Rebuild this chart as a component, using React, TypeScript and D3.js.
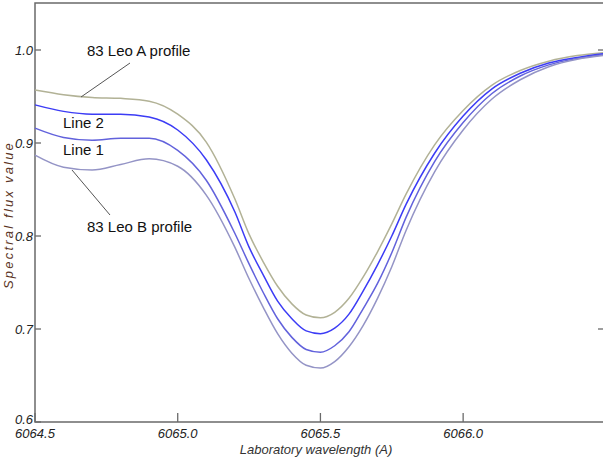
import React, { useRef, useEffect } from "react";
import * as d3 from "d3";

// wavelength samples (A); denser through the line core
const wavelengths = [
  6064.5, 6064.6, 6064.7, 6064.8, 6064.9, 6065.0, 6065.1, 6065.2, 6065.25,
  6065.3, 6065.35, 6065.4, 6065.45, 6065.5, 6065.55, 6065.6, 6065.65, 6065.7,
  6065.75, 6065.8, 6065.9, 6066.0, 6066.1, 6066.2, 6066.3, 6066.4, 6066.49,
];
const leoA = [
  0.957, 0.952, 0.949, 0.948, 0.945, 0.931, 0.901, 0.84, 0.802, 0.772, 0.746,
  0.727, 0.715, 0.712, 0.718, 0.733, 0.756, 0.783, 0.813, 0.845, 0.898, 0.935,
  0.962, 0.978, 0.988, 0.994, 0.997,
];
const line2 = [
  0.941, 0.934, 0.931, 0.931, 0.928, 0.914, 0.882, 0.826, 0.788, 0.758, 0.73,
  0.711, 0.698, 0.695, 0.701, 0.716, 0.741, 0.769, 0.8, 0.834, 0.889, 0.929,
  0.958, 0.975, 0.986, 0.992, 0.996,
];
const line1 = [
  0.916, 0.906, 0.903, 0.905, 0.905, 0.892, 0.86, 0.803, 0.77, 0.739, 0.711,
  0.691, 0.678, 0.675, 0.682, 0.697, 0.722, 0.749, 0.782, 0.82, 0.88, 0.922,
  0.953, 0.972, 0.984, 0.991, 0.995,
];
const leoB = [
  0.887, 0.874, 0.871, 0.877, 0.883, 0.875, 0.844, 0.788, 0.754, 0.723, 0.695,
  0.674, 0.661, 0.658, 0.665, 0.681, 0.704, 0.733, 0.767, 0.806, 0.869, 0.914,
  0.947, 0.968, 0.982, 0.99, 0.994,
];
const xTicks = [6064.5, 6065.0, 6065.5, 6066.0];
const yTicks = [0.6, 0.7, 0.8, 0.9, 1.0];

const series = [
  { name: "A", values: leoA, color: "#b2b296" },
  { name: "Line 2", values: line2, color: "#3c3cf5" },
  { name: "Line 1", values: line1, color: "#6262dc" },
  { name: "B", values: leoB, color: "#9494c6" },
];

const W = 603,
  H = 462;

const App = () => {
  const ref = useRef<SVGSVGElement>(null);

  useEffect(() => {
    const svg = d3.select(ref.current);
    svg.selectChildren().remove();

    const x = d3.scaleLinear().domain([6064.5, 6066.49]).range([35, 603]);
    const y = d3.scaleLinear().domain([0.6, 1.0]).range([422, 50]);
    const axisColor = "#6a6a6a";
    const tickFont = "'Liberation Sans Narrow', 'Arial Narrow', 'Liberation Sans', sans-serif";

    // frame
    svg
      .append("path")
      .attr("d", `M${W},3 H35 V422 H${W}`)
      .attr("fill", "none")
      .attr("stroke", axisColor)
      .attr("stroke-width", 1.5);

    // y ticks (inward), plus right-edge ticks
    const yt = svg.append("g");
    yTicks.forEach((t) => {
      yt.append("line")
        .attr("x1", 35)
        .attr("x2", 41)
        .attr("y1", y(t))
        .attr("y2", y(t))
        .attr("stroke", axisColor)
        .attr("stroke-width", 1.3);
      if (t === 1.0 || t === 0.7)
        yt.append("line")
          .attr("x1", 598)
          .attr("x2", 603)
          .attr("y1", y(t))
          .attr("y2", y(t))
          .attr("stroke", axisColor)
          .attr("stroke-width", 1.3);
      yt.append("text")
        .attr("x", 33)
        .attr("y", y(t) + (t === 0.6 ? 2 : 4.5))
        .attr("text-anchor", "end")
        .attr("font-family", tickFont)
        .attr("font-style", "italic")
        .attr("font-size", 13)
        .attr("fill", "#222")
        .text(t.toFixed(1));
    });

    // x ticks (inward)
    const xt = svg.append("g");
    xTicks.forEach((t) => {
      xt.append("line")
        .attr("x1", x(t))
        .attr("x2", x(t))
        .attr("y1", 413)
        .attr("y2", 422)
        .attr("stroke", axisColor)
        .attr("stroke-width", 1.3);
      xt.append("text")
        .attr("x", x(t))
        .attr("y", 438)
        .attr("text-anchor", "middle")
        .attr("font-family", tickFont)
        .attr("font-style", "italic")
        .attr("font-size", 13)
        .attr("fill", "#222")
        .text(t.toFixed(1));
    });

    // axis titles
    svg
      .append("text")
      .attr("x", 316)
      .attr("y", 454)
      .attr("text-anchor", "middle")
      .attr("font-family", tickFont)
      .attr("font-style", "italic")
      .attr("font-size", 13)
      .attr("fill", "#333")
      .text("Laboratory wavelength (A)");

    svg
      .append("text")
      .attr("transform", "translate(13,215) rotate(-90)")
      .attr("text-anchor", "middle")
      .attr("font-family", "'Liberation Sans', Arial, sans-serif")
      .attr("font-style", "italic")
      .attr("font-size", 13)
      .attr("letter-spacing", 2.2)
      .attr("fill", "#5a3424")
      .text("Spectral flux value");

    // profiles
    const line = d3
      .line<number>()
      .x((_, i) => x(wavelengths[i]))
      .y((d) => y(d))
      .curve(d3.curveMonotoneX);

    svg
      .append("g")
      .selectAll("path")
      .data(series)
      .enter()
      .append("path")
      .attr("d", (d) => line(d.values))
      .attr("fill", "none")
      .attr("stroke", (d) => d.color)
      .attr("stroke-width", 1.5);

    // leader lines
    const lead = [
      [130, 63, 81, 97],
      [110, 215, 72, 170],
    ];
    lead.forEach(([x1, y1, x2, y2]) =>
      svg
        .append("line")
        .attr("x1", x1)
        .attr("y1", y1)
        .attr("x2", x2)
        .attr("y2", y2)
        .attr("stroke", "#555")
        .attr("stroke-width", 1)
    );

    // labels
    const labels = [
      { text: "83 Leo A profile", x: 87, y: 56 },
      { text: "Line 2", x: 63, y: 128 },
      { text: "Line 1", x: 63, y: 155 },
      { text: "83 Leo B profile", x: 87, y: 232 },
    ];
    svg
      .append("g")
      .selectAll("text")
      .data(labels)
      .enter()
      .append("text")
      .attr("x", (d) => d.x)
      .attr("y", (d) => d.y)
      .attr("font-family", "'Liberation Sans', Arial, sans-serif")
      .attr("font-size", 15)
      .attr("fill", "#111")
      .text((d) => d.text);
  }, []);

  return (
    <svg
      ref={ref}
      width={W}
      height={H}
      style={{ position: "absolute", left: 0, top: 0, background: "#fff" }}
    />
  );
};

export default App;
